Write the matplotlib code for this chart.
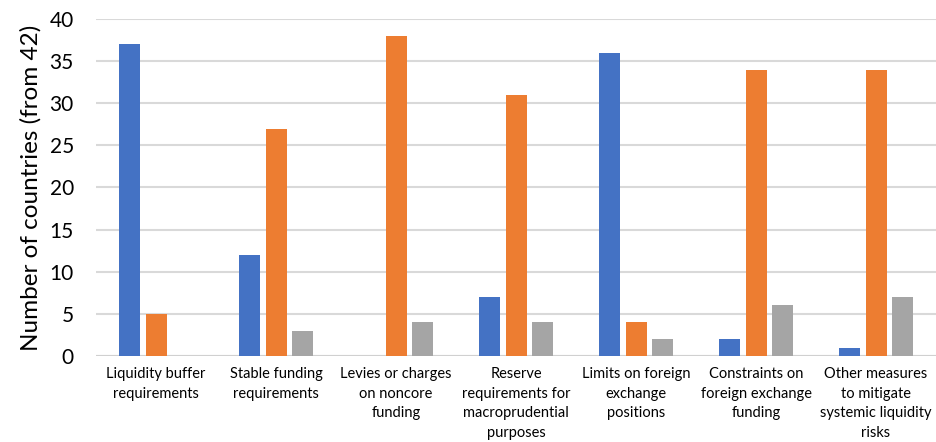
import matplotlib.pyplot as plt
import numpy as np

categories = [
    "Liquidity buffer\nrequirements",
    "Stable funding\nrequirements",
    "Levies or charges\non noncore\nfunding",
    "Reserve\nrequirements for\nmacroprudential\npurposes",
    "Limits on foreign\nexchange\npositions",
    "Constraints on\nforeign exchange\nfunding",
    "Other measures\nto mitigate\nsystemic liquidity\nrisks",
]
series_blue = [37, 12, 0, 7, 36, 2, 1]
series_orange = [5, 27, 38, 31, 4, 34, 34]
series_gray = [0, 3, 4, 4, 2, 6, 7]
yticks = [0, 5, 10, 15, 20, 25, 30, 35, 40]

plt.rcParams['font.family'] = ['Lato', 'DejaVu Sans']

fig = plt.figure(figsize=(9.36, 4.42), dpi=100)
ax = fig.add_axes([0.1026, 0.1946, 0.8974, 0.7624])

x = np.arange(len(categories))
w = 0.175
step = 0.217
colors = ['#4472C4', '#ED7D31', '#A5A5A5']
for i, (vals, c) in enumerate(zip([series_blue, series_orange, series_gray], colors)):
    ax.bar(x + (i - 1) * step, vals, width=w, color=c, zorder=3)

ax.set_xlim(-0.5, len(categories) - 0.5)
ax.set_ylim(0, 40)
ax.set_yticks(yticks)
ax.set_yticklabels([str(t) for t in yticks], fontsize=15)
ax.set_xticks(x)
ax.set_xticklabels(categories, fontsize=10.5, linespacing=1.5)
ax.tick_params(axis='both', length=0)
ax.tick_params(axis='y', pad=16)
ax.tick_params(axis='x', pad=8)
ax.grid(axis='y', color='#D9D9D9', linewidth=1.5, zorder=0)
for s in ax.spines.values():
    s.set_visible(False)
ax.axhline(0, color='#D0D0D0', linewidth=1.5, zorder=2)
ax.set_ylabel("Number of countries (from 42)", fontsize=17.5, labelpad=6)

fig.savefig("out.png", dpi=100)
